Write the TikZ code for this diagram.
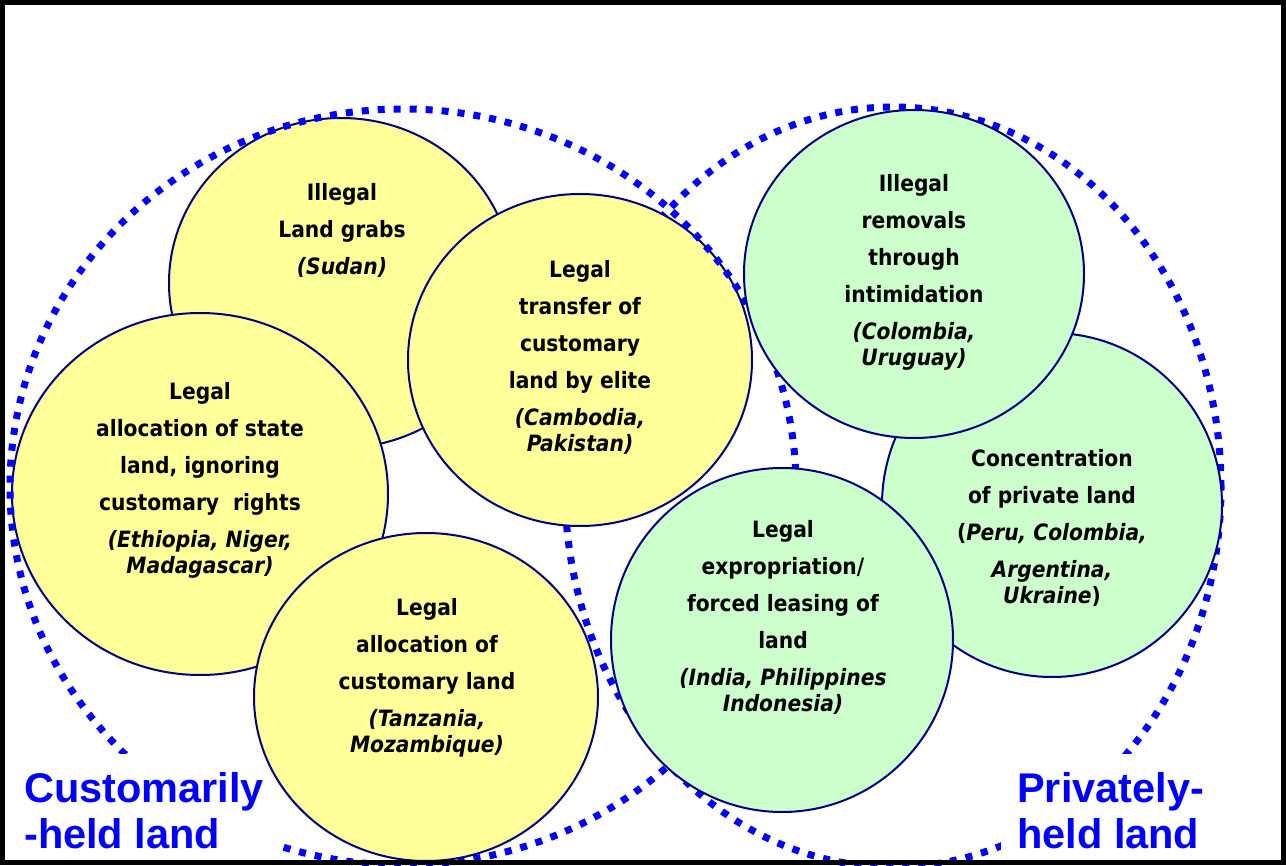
\documentclass[tikz,border=0pt]{standalone}
\usepackage{fontspec}
\IfFontExistsTF{DejaVu Sans Condensed}
  {\setmainfont{DejaVu Sans Condensed}}
  {\setmainfont{DejaVu Sans}[FakeStretch=0.9]}
\newfontfamily\zonefont{Liberation Sans}
\usetikzlibrary{shapes.geometric}
\definecolor{landyellow}{RGB}{255, 255, 153}
\definecolor{landgreen}{RGB}{204, 255, 204}
\definecolor{rimnavy}{RGB}{0, 0, 128}
\definecolor{zoneblue}{RGB}{0, 0, 255}

\begin{document}
\begin{tikzpicture}[
    x=1pt, y=-1pt,
    customland/.style={ellipse, draw=rimnavy, line width=2pt, fill=landyellow, inner sep=0pt},
    privateland/.style={ellipse, draw=rimnavy, line width=2pt, fill=landgreen, inner sep=0pt},
    zone/.style={ellipse, draw=zoneblue, line width=7pt, dash pattern=on 7pt off 9pt, inner sep=0pt},
    blurb/.style={anchor=north, align=center, inner sep=0pt, font=\bfseries\fontsize{22.5}{26.5}\selectfont},
    zonelabel/.style={anchor=north west, align=left, fill=white, text=zoneblue, inner xsep=16pt, inner ysep=18pt, font=\zonefont\bfseries\fontsize{41.5}{46}\selectfont}
]
\useasboundingbox (0,0) rectangle (1286,866);

\node (privzone) [zone, minimum width=656pt, minimum height=760pt] at (893,487) {};

\node (grabs) [customland, minimum width=344pt, minimum height=330pt] at (341,283) {};
\node (statealloc) [customland, minimum width=376pt, minimum height=362pt] at (200,494) {};
\node (elite) [customland, minimum width=344pt, minimum height=332pt] at (580,360) {};

\node (custzone) [zone, minimum width=786pt, minimum height=756pt] at (403,487) {};
\node (custlabel) [zonelabel] at (8,754) {Customarily\\-held land};

\node (custalloc) [customland, minimum width=344pt, minimum height=328pt] at (426,697) {};

\node (concentration) [privateland, minimum width=340pt, minimum height=344pt] at (1052,505) {};
\node (intimidation) [privateland, minimum width=340pt, minimum height=328pt] at (914,274) {};
\node (expropriation) [privateland, minimum width=342pt, minimum height=344pt] at (782,640) {};

\node (grabs-text) [blurb] at (342,183) {Illegal\\[10.5pt] Land grabs\\[10.5pt] \textit{(Sudan)}};
\node (elite-text) [blurb] at (580,260) {Legal\\[10.5pt] transfer of\\[10.5pt] customary\\[10.5pt] land by elite\\[10.5pt] \textit{(Cambodia,}\\ \textit{Pakistan)}};
\node (statealloc-text) [blurb] at (200,382) {Legal\\[10.5pt] allocation of state\\[10.5pt] land, ignoring\\[10.5pt] customary\ \ rights\\[10.5pt] \textit{(Ethiopia, Niger,}\\ \textit{Madagascar)}};
\node (custalloc-text) [blurb] at (427,598) {Legal\\[10.5pt] allocation of\\[10.5pt] customary land\\[10.5pt] \textit{(Tanzania,}\\ \textit{Mozambique)}};
\node (intimidation-text) [blurb] at (914,174) {Illegal\\[10.5pt] removals\\[10.5pt] through\\[10.5pt] intimidation\\[10.5pt] \textit{(Colombia,}\\ \textit{Uruguay)}};
\node (concentration-text) [blurb] at (1052,449) {Concentration\\[10.5pt] of private land\\[10.5pt] (\textit{Peru, Colombia,}\\[10.5pt] \textit{Argentina,}\\ \textit{Ukraine})};
\node (expropriation-text) [blurb] at (783,520) {Legal\\[10.5pt] expropriation/\\[10.5pt] forced leasing of\\[10.5pt] land\\[10.5pt] \textit{(India, Philippines}\\ \textit{Indonesia)}};

\node (privlabel) [zonelabel] at (1001,754) {Privately-\\held land};

\draw [line width=5pt] (2.5,2.5) rectangle (1283.5,862.5);

\end{tikzpicture}
\end{document}
